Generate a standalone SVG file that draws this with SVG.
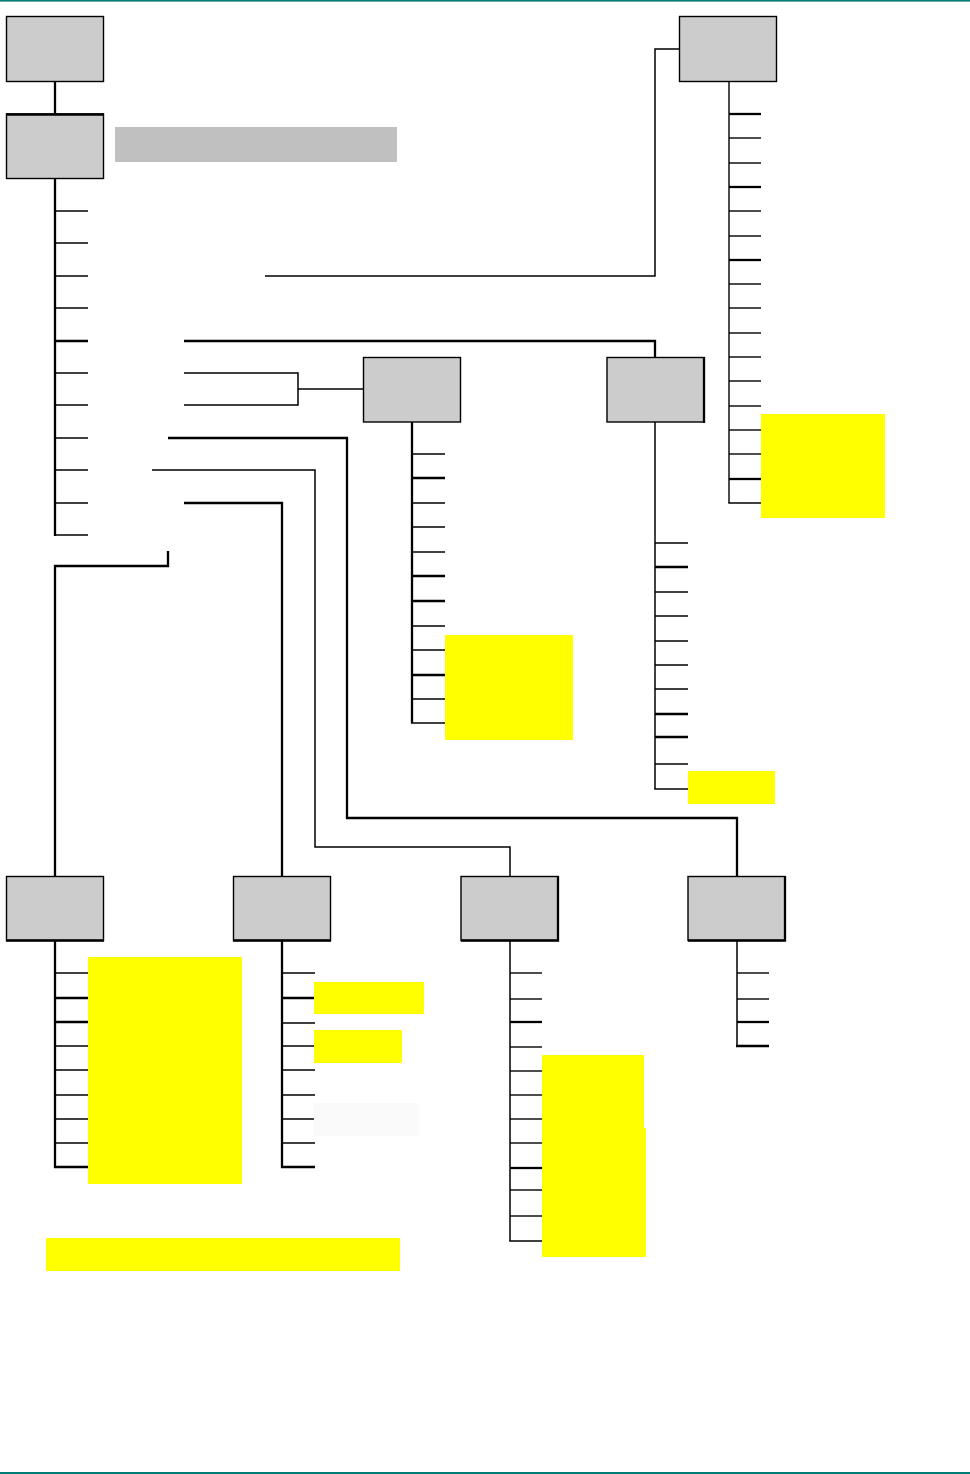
<svg xmlns="http://www.w3.org/2000/svg" width="970" height="1474" viewBox="0 0 970 1474">
<style>
.node{fill:#CCCCCC;stroke:#000;stroke-width:1.4}
.edge{fill:none;stroke:#000;stroke-width:1.5}
.thick{fill:none;stroke:#000;stroke-width:2.3}
.t{stroke:#000;stroke-width:1.4}
.tk{stroke:#000;stroke-width:2.3}
.hl{fill:#FFFF00}
</style>
<rect x="0" y="0" width="970" height="1474" fill="#fff"/>
<rect x="0" y="0" width="970" height="1.6" fill="#007D75"/>
<rect x="0" y="1472" width="970" height="2" fill="#007D75"/>

<g id="connectors">
  <line class="thick" x1="55" y1="81" x2="55" y2="114"/>
  <line class="thick" x1="55" y1="178" x2="55" y2="536"/>
  <line class="t" x1="55" y1="211" x2="88" y2="211"/>
  <line class="t" x1="55" y1="243" x2="88" y2="243"/>
  <line class="t" x1="55" y1="276" x2="88" y2="276"/>
  <line class="t" x1="55" y1="308" x2="88" y2="308"/>
  <line class="tk" x1="55" y1="341" x2="88" y2="341"/>
  <line class="t" x1="55" y1="373" x2="88" y2="373"/>
  <line class="t" x1="55" y1="405" x2="88" y2="405"/>
  <line class="t" x1="55" y1="438" x2="88" y2="438"/>
  <line class="t" x1="55" y1="470" x2="88" y2="470"/>
  <line class="t" x1="55" y1="503" x2="88" y2="503"/>
  <line class="t" x1="54" y1="535" x2="88" y2="535"/>
  <polyline class="edge" points="265,276 655,276 655,49 679,49"/>
  <polyline class="thick" points="184,341 655,341 655,357"/>
  <polyline class="edge" points="184,373 298,373 298,405 184,405"/>
  <line class="edge" x1="298" y1="389" x2="363" y2="389"/>
  <polyline class="thick" points="168,438 347,438 347,818 737,818 737,876"/>
  <polyline class="edge" points="152,470 315,470 315,847 510,847 510,876"/>
  <polyline class="thick" points="184,503 282,503 282,876"/>
  <polyline class="thick" points="168,551 168,566 55,566 55,876"/>

  <line class="t" x1="729" y1="81" x2="729" y2="503"/>
  <line class="tk" x1="729" y1="114" x2="761" y2="114"/>
  <line class="t" x1="729" y1="138" x2="761" y2="138"/>
  <line class="t" x1="729" y1="163" x2="761" y2="163"/>
  <line class="tk" x1="729" y1="187" x2="761" y2="187"/>
  <line class="t" x1="729" y1="211" x2="761" y2="211"/>
  <line class="t" x1="729" y1="236" x2="761" y2="236"/>
  <line class="tk" x1="729" y1="260" x2="761" y2="260"/>
  <line class="t" x1="729" y1="284" x2="761" y2="284"/>
  <line class="t" x1="729" y1="308" x2="761" y2="308"/>
  <line class="t" x1="729" y1="333" x2="761" y2="333"/>
  <line class="t" x1="729" y1="357" x2="761" y2="357"/>
  <line class="t" x1="729" y1="381" x2="761" y2="381"/>
  <line class="t" x1="729" y1="406" x2="761" y2="406"/>
  <line class="t" x1="729" y1="430" x2="761" y2="430"/>
  <line class="t" x1="729" y1="454" x2="761" y2="454"/>
  <line class="tk" x1="729" y1="479" x2="761" y2="479"/>
  <line class="t" x1="728.3" y1="503" x2="761" y2="503"/>

  <line class="thick" x1="412" y1="422" x2="412" y2="723"/>
  <line class="t" x1="412" y1="454" x2="445" y2="454"/>
  <line class="tk" x1="412" y1="478" x2="445" y2="478"/>
  <line class="t" x1="412" y1="503" x2="445" y2="503"/>
  <line class="t" x1="412" y1="527" x2="445" y2="527"/>
  <line class="t" x1="412" y1="552" x2="445" y2="552"/>
  <line class="tk" x1="412" y1="576" x2="445" y2="576"/>
  <line class="tk" x1="412" y1="601" x2="445" y2="601"/>
  <line class="t" x1="412" y1="626" x2="445" y2="626"/>
  <line class="t" x1="412" y1="650" x2="445" y2="650"/>
  <line class="tk" x1="412" y1="675" x2="445" y2="675"/>
  <line class="t" x1="412" y1="699" x2="445" y2="699"/>
  <line class="t" x1="411" y1="723" x2="445" y2="723"/>

  <line class="edge" x1="655" y1="422" x2="655" y2="789"/>
  <line class="t" x1="655" y1="543" x2="688" y2="543"/>
  <line class="tk" x1="655" y1="567" x2="688" y2="567"/>
  <line class="t" x1="655" y1="592" x2="688" y2="592"/>
  <line class="t" x1="655" y1="616" x2="688" y2="616"/>
  <line class="t" x1="655" y1="641" x2="688" y2="641"/>
  <line class="t" x1="655" y1="665" x2="688" y2="665"/>
  <line class="t" x1="655" y1="689" x2="688" y2="689"/>
  <line class="tk" x1="655" y1="714" x2="688" y2="714"/>
  <line class="tk" x1="655" y1="737" x2="688" y2="737"/>
  <line class="t" x1="655" y1="764" x2="688" y2="764"/>
  <line class="t" x1="654.3" y1="789" x2="688" y2="789"/>

  <line class="thick" x1="55" y1="941" x2="55" y2="1168"/>
  <line class="t" x1="55" y1="973" x2="88" y2="973"/>
  <line class="tk" x1="55" y1="998" x2="88" y2="998"/>
  <line class="tk" x1="55" y1="1022" x2="88" y2="1022"/>
  <line class="t" x1="55" y1="1046" x2="88" y2="1046"/>
  <line class="t" x1="55" y1="1070" x2="88" y2="1070"/>
  <line class="t" x1="55" y1="1095" x2="88" y2="1095"/>
  <line class="t" x1="55" y1="1119" x2="88" y2="1119"/>
  <line class="t" x1="55" y1="1143" x2="88" y2="1143"/>
  <line class="tk" x1="54" y1="1167" x2="88" y2="1167"/>

  <line class="thick" x1="282" y1="941" x2="282" y2="1168"/>
  <line class="t" x1="282" y1="973" x2="315" y2="973"/>
  <line class="tk" x1="282" y1="998" x2="315" y2="998"/>
  <line class="t" x1="282" y1="1023" x2="315" y2="1023"/>
  <line class="t" x1="282" y1="1046" x2="315" y2="1046"/>
  <line class="t" x1="282" y1="1070" x2="315" y2="1070"/>
  <line class="t" x1="282" y1="1095" x2="315" y2="1095"/>
  <line class="t" x1="282" y1="1119" x2="315" y2="1119"/>
  <line class="t" x1="282" y1="1143" x2="315" y2="1143"/>
  <line class="tk" x1="281" y1="1167" x2="315" y2="1167"/>

  <line class="edge" x1="510" y1="941" x2="510" y2="1241"/>
  <line class="t" x1="510" y1="973" x2="542" y2="973"/>
  <line class="t" x1="510" y1="999" x2="542" y2="999"/>
  <line class="tk" x1="510" y1="1022" x2="542" y2="1022"/>
  <line class="t" x1="510" y1="1047" x2="542" y2="1047"/>
  <line class="t" x1="510" y1="1071" x2="542" y2="1071"/>
  <line class="t" x1="510" y1="1095" x2="542" y2="1095"/>
  <line class="t" x1="510" y1="1119" x2="542" y2="1119"/>
  <line class="t" x1="510" y1="1143" x2="542" y2="1143"/>
  <line class="tk" x1="510" y1="1168" x2="542" y2="1168"/>
  <line class="t" x1="510" y1="1190" x2="542" y2="1190"/>
  <line class="t" x1="510" y1="1216" x2="542" y2="1216"/>
  <line class="t" x1="509.3" y1="1241" x2="542" y2="1241"/>

  <line class="edge" x1="737" y1="941" x2="737" y2="1046"/>
  <line class="t" x1="737" y1="973" x2="769" y2="973"/>
  <line class="t" x1="737" y1="999" x2="769" y2="999"/>
  <line class="tk" x1="737" y1="1022" x2="769" y2="1022"/>
  <line class="tk" x1="736" y1="1046" x2="769" y2="1046"/>
</g>

<g id="highlights">
  <rect x="115" y="127" width="282" height="35" fill="#C0C0C0"/>
  <rect class="hl" x="761" y="414" width="124" height="104"/>
  <rect class="hl" x="445" y="635" width="128" height="105"/>
  <rect class="hl" x="688" y="771" width="87" height="33"/>
  <rect class="hl" x="88" y="957" width="154" height="227"/>
  <rect class="hl" x="314" y="982" width="110" height="32"/>
  <rect class="hl" x="314" y="1030" width="88" height="33"/>
  <rect x="314" y="1103" width="105" height="33" fill="#FAFAFA"/>
  <rect class="hl" x="542" y="1055" width="102" height="74"/>
  <rect class="hl" x="542" y="1128" width="104" height="129"/>
  <rect class="hl" x="46" y="1238" width="354" height="33"/>
</g>

<g id="n1"><rect class="node" x="6.5" y="16.5" width="97" height="65"/></g>
<g id="n2"><rect class="node" x="6.5" y="114" width="97" height="64.5"/><line class="tk" x1="6" y1="114.5" x2="104" y2="114.5"/></g>
<g id="n3"><rect class="node" x="679.5" y="16.5" width="97" height="65"/></g>
<g id="n4"><rect class="node" x="363.5" y="357.5" width="97" height="64.5"/></g>
<g id="n5"><rect class="node" x="607" y="357.5" width="97" height="64.5"/><line class="tk" x1="704" y1="357" x2="704" y2="423"/></g>
<g id="n6"><rect class="node" x="6.5" y="876.5" width="97" height="64"/><line class="tk" x1="6" y1="940.5" x2="104" y2="940.5"/></g>
<g id="n7"><rect class="node" x="233.5" y="876.5" width="97" height="64"/><line class="tk" x1="233" y1="940.5" x2="331" y2="940.5"/></g>
<g id="n8"><rect class="node" x="461" y="876.5" width="97" height="64"/><polyline class="thick" points="461,940.5 558,940.5 558,876"/></g>
<g id="n9"><rect class="node" x="688" y="876.5" width="97" height="64"/><polyline class="thick" points="688,940.5 785,940.5 785,876"/></g>
</svg>
